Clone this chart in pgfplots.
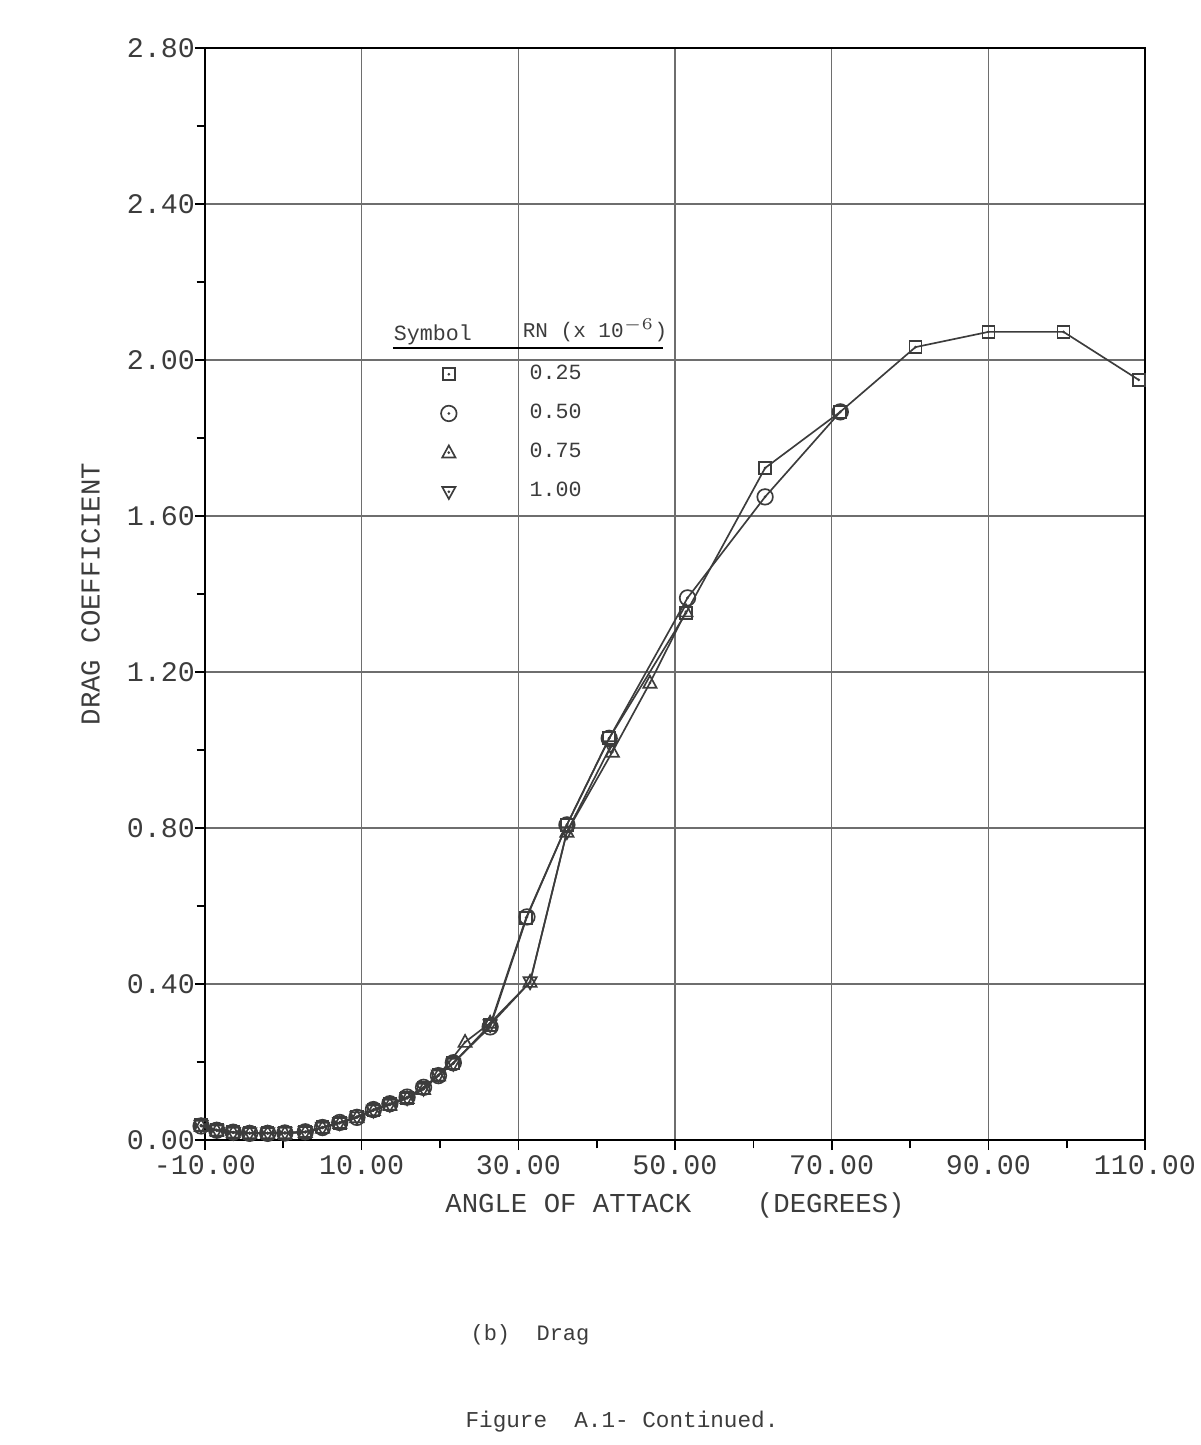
\documentclass[border=0pt]{standalone}
\usepackage{pgfplots}
\pgfplotsset{compat=1.18}
\usepackage{fontspec}
\setmainfont{Liberation Mono}

\pgfdeclareplotmark{sqdot}{%
  \pgfpathrectangle{\pgfpoint{-\pgfplotmarksize}{-\pgfplotmarksize}}{\pgfpoint{2\pgfplotmarksize}{2\pgfplotmarksize}}%
  \pgfusepathqstroke
  \pgfpathcircle{\pgfpointorigin}{0.25\pgfplotmarksize}\pgfusepathqfill}
\pgfdeclareplotmark{cidot}{%
  \pgfpathcircle{\pgfpointorigin}{1.3\pgfplotmarksize}\pgfusepathqstroke
  \pgfpathcircle{\pgfpointorigin}{0.25\pgfplotmarksize}\pgfusepathqfill}
\pgfdeclareplotmark{tridot}{%
  \pgfpathmoveto{\pgfpoint{0pt}{1.2\pgfplotmarksize}}%
  \pgfpathlineto{\pgfpoint{-1.1\pgfplotmarksize}{-0.8\pgfplotmarksize}}%
  \pgfpathlineto{\pgfpoint{1.1\pgfplotmarksize}{-0.8\pgfplotmarksize}}%
  \pgfpathclose\pgfusepathqstroke
  \pgfpathcircle{\pgfpointorigin}{0.25\pgfplotmarksize}\pgfusepathqfill}
\pgfdeclareplotmark{itridot}{%
  \pgfpathmoveto{\pgfpoint{0pt}{-1.2\pgfplotmarksize}}%
  \pgfpathlineto{\pgfpoint{-1.1\pgfplotmarksize}{0.8\pgfplotmarksize}}%
  \pgfpathlineto{\pgfpoint{1.1\pgfplotmarksize}{0.8\pgfplotmarksize}}%
  \pgfpathclose\pgfusepathqstroke
  \pgfpathcircle{\pgfpointorigin}{0.25\pgfplotmarksize}\pgfusepathqfill}

\definecolor{ink}{RGB}{60,60,60}
\definecolor{gridgray}{RGB}{110,110,110}

\begin{document}
\begin{tikzpicture}
% page: 1200x1445 px at 0.3pt per px, axis corner at (205,1140)
\path[use as bounding box] (-61.5pt,-91.5pt) rectangle (298.5pt,342pt);

\begin{axis}[
  scale only axis, clip=false,
  width=282pt, height=327.6pt,
  xmin=-10, xmax=110, ymin=0, ymax=2.8,
  xtick={-10,10,30,50,70,90,110},
  xticklabels={-10.00,10.00,30.00,50.00,70.00,90.00,110.00},
  ytick={0,0.4,0.8,1.2,1.6,2.0,2.4,2.8},
  yticklabels={0.00,0.40,0.80,1.20,1.60,2.00,2.40,2.80},
  minor x tick num=1, minor y tick num=1,
  tick align=outside, tick pos=left,
  major tick length=3pt, minor tick length=2.5pt,
  tick style={black, line width=0.5pt},
  xmajorgrids, ymajorgrids,
  grid style={gridgray, line width=0.45pt},
  axis line style={black, line width=0.6pt},
  ticklabel style={font=\fontsize{8.5}{10}\selectfont, text=ink},
  yticklabel style={xshift=3.5pt},
  xticklabel style={yshift=2pt},
  xlabel={ANGLE OF ATTACK\ \ \ \ (DEGREES)},
  ylabel={DRAG COEFFICIENT},
  label style={font=\fontsize{8.2}{10}\selectfont, text=ink},
  xlabel style={yshift=1.5pt},
  ylabel style={yshift=1.2pt},
  legend style={at={(axis cs:16.7,1.99)}, anchor=north west, draw=none, fill=none,
    inner sep=0pt, nodes={inner sep=0pt},
    font=\fontsize{6.5}{8}\selectfont, text=ink, row sep=5.9pt,
    /tikz/every odd column/.style={column sep=14pt}},
  legend cell align={left},
  legend image code/.code={\path (0cm,0cm) (0.7cm,0cm);
    \draw[#1] plot[only marks, mark repeat=2, mark phase=2] coordinates {(0cm,0cm) (0.35cm,0cm) (0.7cm,0cm)};},
]

% RN 0.25
\addplot[ink, line width=0.5pt, mark=sqdot, mark size=1.8pt] coordinates {
(-10.5,0.038) (-8.5,0.026) (-6.4,0.020) (-4.3,0.018) (-2.0,0.018) (0.2,0.018)
(2.8,0.020) (5.0,0.033) (7.2,0.044) (9.4,0.060) (11.5,0.077) (13.6,0.092)
(15.8,0.108) (17.9,0.133) (19.8,0.167) (21.7,0.197) (26.4,0.295) (31.0,0.570)
(36.2,0.808) (41.6,1.030) (51.4,1.351) (61.5,1.723) (71.1,1.867) (80.7,2.033)
(90.0,2.072) (99.6,2.072) (109.2,1.949)
};
\addlegendentry{0.25}

% RN 0.50
\addplot[ink, line width=0.5pt, mark=cidot, mark size=1.8pt] coordinates {
(-10.5,0.036) (-8.5,0.025) (-6.4,0.020) (-4.3,0.017) (-2.0,0.017) (0.2,0.018)
(2.8,0.021) (5.0,0.032) (7.2,0.045) (9.4,0.058) (11.5,0.078) (13.6,0.093)
(15.8,0.110) (17.9,0.135) (19.8,0.165) (21.7,0.198) (26.4,0.290) (31.1,0.572)
(36.2,0.808) (41.6,1.030) (51.6,1.390) (61.5,1.649) (71.1,1.867)
};
\addlegendentry{0.50}

% RN 0.75
\addplot[ink, line width=0.5pt, mark=tridot, mark size=1.8pt] coordinates {
(-10.5,0.036) (-8.5,0.024) (-6.4,0.019) (-4.3,0.017) (-2.0,0.017) (0.2,0.017)
(2.8,0.020) (5.0,0.031) (7.2,0.043) (9.4,0.058) (11.5,0.076) (13.6,0.090)
(15.8,0.107) (17.9,0.130) (19.8,0.165) (23.2,0.251) (26.4,0.300) (31.5,0.405)
(36.2,0.790) (42.0,0.995) (46.8,1.172) (51.4,1.355)
};
\addlegendentry{0.75}

% RN 1.00
\addplot[ink, line width=0.5pt, mark=itridot, mark size=1.8pt] coordinates {
(-10.5,0.037) (-8.5,0.025) (-6.4,0.019) (-4.3,0.018) (-2.0,0.018) (0.2,0.019)
(2.8,0.021) (5.0,0.032) (7.2,0.044) (9.4,0.059) (11.5,0.076) (13.6,0.091)
(15.8,0.108) (17.9,0.132) (19.8,0.166) (21.7,0.196) (26.4,0.295) (31.5,0.405)
(36.2,0.790) (41.8,1.010)
};
\addlegendentry{1.00}

% legend header and rule
\node[text=ink, font=\fontsize{6.5}{8}\selectfont] at (axis cs:19.1,2.064) {Symbol};
\node[text=ink, font=\fontsize{6.3}{8}\selectfont] at (axis cs:39.8,2.077) {RN (x 10$^{-6}$)};
\draw[black, line width=0.7pt] (axis cs:14.0,2.031) -- (axis cs:48.5,2.031);
\end{axis}

\node[text=ink, font=\fontsize{6.6}{8}\selectfont] at (97.5pt,-58.5pt) {(b)\ \ Drag};
\node[text=ink, font=\fontsize{6.8}{8}\selectfont] at (125.1pt,-84.6pt) {Figure\ \ A.1-\ Continued.};
\end{tikzpicture}
\end{document}
